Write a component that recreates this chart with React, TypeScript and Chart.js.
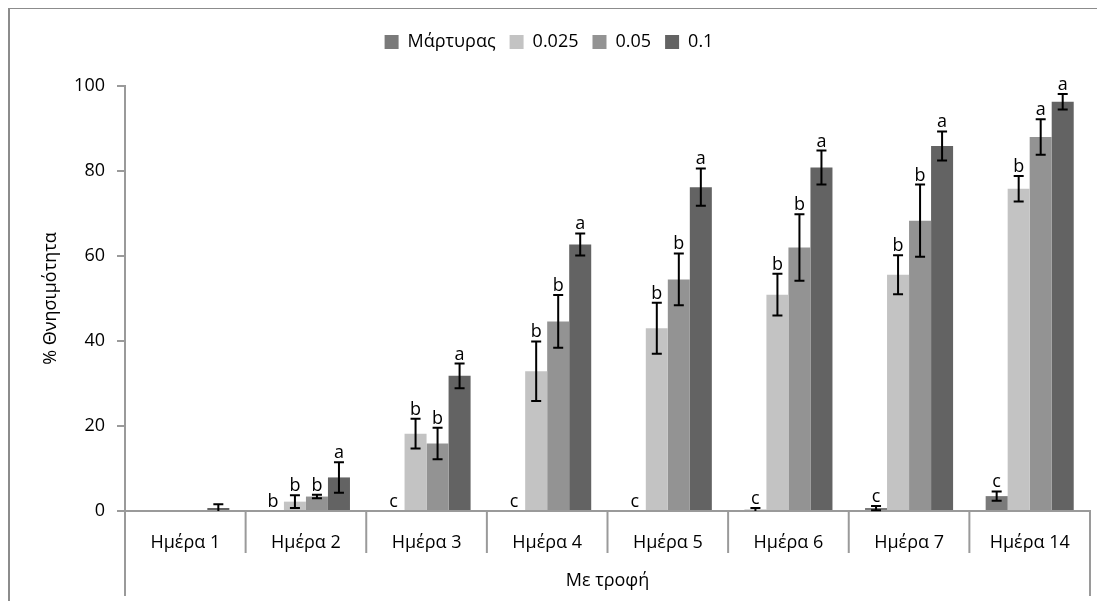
import React, { useEffect, useRef } from "react";
import { Chart, registerables } from "chart.js";

Chart.register(...registerables);

const categories = ["Ημέρα 1", "Ημέρα 2", "Ημέρα 3", "Ημέρα 4", "Ημέρα 5", "Ημέρα 6", "Ημέρα 7", "Ημέρα 14"];
const seriesNames = ["Μάρτυρας", "0.025", "0.05", "0.1"];
const seriesColors = ["#7a7a7a", "#c3c3c3", "#939393", "#636363"];

const controlValues = [0, 0, 0, 0, 0, 0.3, 0.7, 3.5];
const controlErrors = [0, 0, 0, 0, 0, 0.4, 0.5, 1.1];
const controlLetters = ["", "b", "c", "c", "c", "c", "c", "c"];

const dose025Values = [0, 2.2, 18.2, 32.9, 43.0, 50.9, 55.6, 75.8];
const dose025Errors = [0, 1.5, 3.5, 7.0, 6.0, 4.9, 4.6, 3.0];
const dose025Letters = ["", "b", "b", "b", "b", "b", "b", "b"];

const dose05Values = [0, 3.4, 15.9, 44.6, 54.5, 62.0, 68.3, 88.0];
const dose05Errors = [0, 0.4, 3.7, 6.2, 6.1, 7.8, 8.5, 4.2];
const dose05Letters = ["", "b", "b", "b", "b", "b", "b", "a"];

const dose1Values = [0.7, 7.9, 31.8, 62.7, 76.2, 80.8, 85.9, 96.3];
const dose1Errors = [0.9, 3.6, 2.9, 2.6, 4.4, 4.0, 3.4, 1.8];
const dose1Letters = ["", "a", "a", "a", "a", "a", "a", "a"];

const yTicks = [0, 20, 40, 60, 80, 100];
const yTitle = "% Θνησιμότητα";
const xTitle = "Με τροφή";

const FONT = "'Open Sans', sans-serif";
const FS = 18;
const AXIS_GRAY = "#9a9a9a";

const allValues = [controlValues, dose025Values, dose05Values, dose1Values];
const allErrors = [controlErrors, dose025Errors, dose05Errors, dose1Errors];
const allLetters = [controlLetters, dose025Letters, dose05Letters, dose1Letters];

const legendMarginPlugin = {
  id: "legendMargin",
  beforeInit(chart: any) {
    if (!chart.legend) return;
    const origFit = chart.legend.fit;
    chart.legend.fit = function () {
      origFit.bind(chart.legend)();
      this.height += 25;
    };
  },
};

const extrasPlugin = {
  id: "extras",
  afterDatasetsDraw(chart: any) {
    const ctx = chart.ctx;
    const yScale = chart.scales.y;
    ctx.save();
    ctx.strokeStyle = "#000";
    ctx.lineWidth = 2;
    ctx.fillStyle = "#000";
    ctx.font = `${FS}px ${FONT}`;
    ctx.textAlign = "center";
    ctx.textBaseline = "alphabetic";
    allValues.forEach((vals, di) => {
      const meta = chart.getDatasetMeta(di);
      vals.forEach((v, i) => {
        const bar: any = meta.data[i];
        const x = bar.x;
        const err = allErrors[di][i];
        let topY = yScale.getPixelForValue(v);
        if (err > 0) {
          const yHi = yScale.getPixelForValue(v + err);
          const yLo = yScale.getPixelForValue(Math.max(0, v - err));
          ctx.beginPath();
          ctx.moveTo(x, yHi);
          ctx.lineTo(x, yLo);
          ctx.moveTo(x - 5, yHi);
          ctx.lineTo(x + 5, yHi);
          if (v - err > 0) {
            ctx.moveTo(x - 5, yLo);
            ctx.lineTo(x + 5, yLo);
          }
          ctx.stroke();
          topY = yHi;
        }
        const letter = allLetters[di][i];
        if (letter) ctx.fillText(letter, x, topY - 4);
      });
    });
    ctx.restore();
  },
  afterDraw(chart: any) {
    const ctx = chart.ctx;
    const { left, right, bottom } = chart.chartArea;
    ctx.save();
    ctx.strokeStyle = "#8c8c8c";
    ctx.lineWidth = 2;
    ctx.beginPath();
    ctx.moveTo(1, chart.height);
    ctx.lineTo(1, 1);
    ctx.lineTo(chart.width, 1);
    ctx.stroke();
    ctx.strokeStyle = AXIS_GRAY;
    ctx.lineWidth = 2;
    const n = categories.length;
    for (let i = 0; i <= n; i++) {
      const x = left + ((right - left) * i) / n;
      const ext = i === 0 || i === n ? 85 : 42;
      ctx.beginPath();
      ctx.moveTo(x, bottom);
      ctx.lineTo(x, bottom + ext);
      ctx.stroke();
    }
    ctx.restore();
  },
};

export default function App() {
  const ref = useRef<HTMLCanvasElement | null>(null);
  useEffect(() => {
    if (!ref.current) return;
    const chart = new Chart(ref.current, {
      type: "bar",
      data: {
        labels: categories,
        datasets: seriesNames.map((name, i) => ({
          label: name,
          data: allValues[i],
          backgroundColor: seriesColors[i],
          borderWidth: 0,
          barPercentage: 1,
          categoryPercentage: 0.73,
        })),
      },
      options: {
        responsive: false,
        animation: false,
        layout: { padding: { top: 12, right: 15, left: 0, bottom: 0 } },
        plugins: {
          legend: {
            position: "top",
            labels: {
              boxWidth: 14,
              boxHeight: 14,
              padding: 14,
              color: "#000",
              font: { family: FONT, size: FS },
            },
          },
          tooltip: { enabled: false },
        },
        scales: {
          x: {
            afterFit(scale: any) {
              scale.height = 90;
            },
            grid: { display: false },
            border: { display: true, color: AXIS_GRAY, width: 2 },
            ticks: { color: "#000", font: { family: FONT, size: FS }, padding: 13, maxRotation: 0 },
            title: {
              display: true,
              text: xTitle,
              color: "#000",
              font: { family: FONT, size: FS },
              padding: { top: 0, bottom: 9 },
            },
          },
          y: {
            min: 0,
            max: 100,
            afterFit(scale: any) {
              scale.width = 117;
            },
            afterBuildTicks(scale: any) {
              scale.ticks = yTicks.map((v) => ({ value: v }));
            },
            grid: { display: true, drawOnChartArea: false, drawTicks: true, tickLength: 8, color: AXIS_GRAY, lineWidth: 2 },
            border: { display: true, color: AXIS_GRAY, width: 2 },
            ticks: { color: "#000", font: { family: FONT, size: FS }, padding: 12 },
            title: {
              display: true,
              text: yTitle,
              color: "#000",
              font: { family: FONT, size: FS },
              padding: { top: 32, bottom: 0 },
            },
          },
        },
      },
      plugins: [legendMarginPlugin, extrasPlugin],
    });
    return () => chart.destroy();
  }, []);
  return (
    <div style={{ width: 1097, height: 594, marginTop: -1 }}>
      <canvas ref={ref} width={1097} height={594} style={{ display: "block" }} />
    </div>
  );
}
